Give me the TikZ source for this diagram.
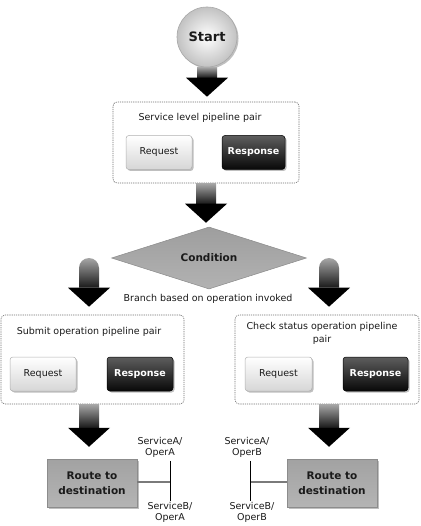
\documentclass[tikz,border=0pt]{standalone}
\usepackage{fontspec}
\setmainfont{DejaVu Sans}
\usetikzlibrary{shapes.geometric,shadows,calc}
\definecolor{arrowtop}{HTML}{A6A6A6}
\definecolor{txt}{HTML}{1A1A1A}
\definecolor{dashc}{HTML}{707070}
\definecolor{reqborder}{HTML}{B0B0B0}
\definecolor{reqbot}{HTML}{D6D6D6}
\definecolor{restop}{HTML}{5E5E5E}
\definecolor{resbot}{HTML}{080808}
\definecolor{startout}{HTML}{C2C2C2}
\definecolor{startborder}{HTML}{A8A8A8}
\definecolor{condtop}{HTML}{9E9E9E}
\definecolor{condbot}{HTML}{B2B2B2}
\definecolor{condborder}{HTML}{8A8A8A}
\definecolor{routetop}{HTML}{A2A2A2}
\definecolor{routebot}{HTML}{B4B4B4}
\definecolor{routeborder}{HTML}{8C8C8C}
\definecolor{linkgray}{HTML}{7A7A7A}
\tikzset{
  lbl/.style={font=\fontsize{9.5}{11}\selectfont, text=txt, inner sep=0pt, align=center},
  ttl/.style={font=\fontsize{9.5}{13}\selectfont, text=txt, inner sep=0pt, align=center},
  pairbox/.style={draw=dashc, dash pattern=on 1.2pt off 1pt, line width=0.6pt, rounded corners=4pt, fill=white, inner sep=0pt},
  softshadow/.style={drop shadow={shadow xshift=1.5pt, shadow yshift=-1.5pt, opacity=0.25, fill=black}},
  reqbtn/.style={softshadow, draw=reqborder, line width=0.5pt, rounded corners=3pt, top color=white, bottom color=reqbot, font=\fontsize{9.5}{11}\selectfont, text=txt, minimum height=34pt, inner sep=0pt},
  resbtn/.style={softshadow, draw=black, line width=0.5pt, rounded corners=3pt, top color=restop, bottom color=resbot, font=\bfseries\fontsize{9.5}{11}\selectfont, text=white, minimum height=34pt, inner sep=0pt},
  startc/.style={softshadow, circle, draw=startborder, line width=0.6pt, inner color=white, outer color=startout, minimum size=60pt, inner sep=0pt, font=\bfseries\fontsize{13}{15}\selectfont, text=txt},
  condd/.style={diamond, aspect=3, draw=condborder, line width=0.5pt, top color=condtop, bottom color=condbot, minimum width=195pt, minimum height=62pt, inner sep=0pt, font=\bfseries\fontsize{10.5}{13}\selectfont, text=txt},
  routeb/.style={softshadow, rectangle, draw=routeborder, line width=0.5pt, top color=routetop, bottom color=routebot, minimum width=90pt, minimum height=48pt, inner sep=0pt, align=center, font=\bfseries\fontsize{10.5}{15}\selectfont, text=txt},
  linkh/.style={draw=linkgray, line width=1.4pt},
  linkv/.style={draw=black, line width=0.8pt}
}
% block arrow: #1 start (x taken from it), #2 target, #3 gap above target
\newcommand\blockarrow[3]{%
  \shade[top color=arrowtop, bottom color=black!90] let \p1=(#1), \p2=(#2) in
    (\x1-10pt,\y1) rectangle (\x1+10pt,\y2+#3+19pt);
  \fill[black] let \p1=(#1), \p2=(#2) in
    (\x1-21pt,\y2+#3+19pt) -- (\x1+21pt,\y2+#3+19pt) -- (\x1,\y2+#3) -- cycle;}
\newcommand\roundarrow[3]{%
  \shade[top color=arrowtop, bottom color=black!90] let \p1=(#1), \p2=(#2) in
    (\x1-10pt,\y2+#3+19pt) -- (\x1-10pt,\y1-10pt) arc[start angle=180, end angle=0, radius=10pt]
    -- (\x1+10pt,\y2+#3+19pt) -- cycle;
  \fill[black] let \p1=(#1), \p2=(#2) in
    (\x1-21pt,\y2+#3+19pt) -- (\x1+21pt,\y2+#3+19pt) -- (\x1,\y2+#3) -- cycle;}
\begin{document}
\begin{tikzpicture}[x=1pt,y=1pt]
\useasboundingbox[fill=white] (0,0) rectangle (420,-526);

% start
\node[startc] (start) at (207,-37) {Start};

% service level pair
\node[pairbox, minimum width=186pt, minimum height=81pt] (svc) at (206,-142.5) {};
\node[ttl] (svct) at (200,-118) {Service level pipeline pair};
\node[reqbtn, minimum width=66pt] (svcreq) at (159,-152.5) {Request};
\node[resbtn, minimum width=63pt] (svcres) at (253.5,-152.5) {Response};

% condition
\node[condd] (cond) at (209,-258) {Condition};
\node[lbl] (branch) at (208,-299) {Branch based on operation invoked};

% submit pair
\node[pairbox, minimum width=183pt, minimum height=89pt] (subm) at (92.5,-359.5) {};
\node[ttl] (submt) at (89,-332) {Submit operation pipeline pair};
\node[reqbtn, minimum width=66pt] (subreq) at (43,-374) {Request};
\node[resbtn, minimum width=66pt] (subres) at (140,-374) {Response};

% check status pair
\node[pairbox, minimum width=184pt, minimum height=89pt] (chk) at (327,-359.5) {};
\node[ttl] (chkt) at (322,-333.5) {Check status operation pipeline\\pair};
\node[reqbtn, minimum width=67pt] (chkreq) at (278.5,-374) {Request};
\node[resbtn, minimum width=65pt] (chkres) at (375.5,-374) {Response};

% route boxes
\node[routeb] (route1) at (92,-483) {Route to\\destination};
\node[routeb] (route2) at (332,-483) {Route to\\destination};

% service labels
\node[lbl] (sa1) at (160,-447.5) {ServiceA/\\OperA};
\node[lbl] (sb1) at (170,-512.5) {ServiceB/\\OperA};
\node[lbl] (sa2) at (247,-447.5) {ServiceA/\\OperB};
\node[lbl] (sb2) at (252,-512.5) {ServiceB/\\OperB};
\coordinate (j1) at (170,-482);
\coordinate (j2) at (250,-482);
\draw[linkh] (route1.east |- j1) -- (j1);
\draw[linkv] ($(j1 |- sa1.south)+(0,-3pt)$) -- ($(j1 |- sb1.north)+(0,1pt)$);
\draw[linkh] (route2.west |- j2) -- (j2);
\draw[linkv] ($(j2 |- sa2.south)+(0,-3pt)$) -- ($(j2 |- sb2.north)+(0,1pt)$);

% block arrows
\blockarrow{start.south}{svc.north}{5pt}
\blockarrow{svc.south}{cond.north}{4pt}
\coordinate (bl) at (89,-258);
\coordinate (br) at (329,-258);
\roundarrow{bl}{subm.north}{8pt}
\roundarrow{br}{chk.north}{8pt}
\blockarrow{$(subm.south)+(-3.5pt,0)$}{route1.north}{12pt}
\blockarrow{$(chk.south)+(2pt,0)$}{route2.north}{12pt}
\end{tikzpicture}
\end{document}
